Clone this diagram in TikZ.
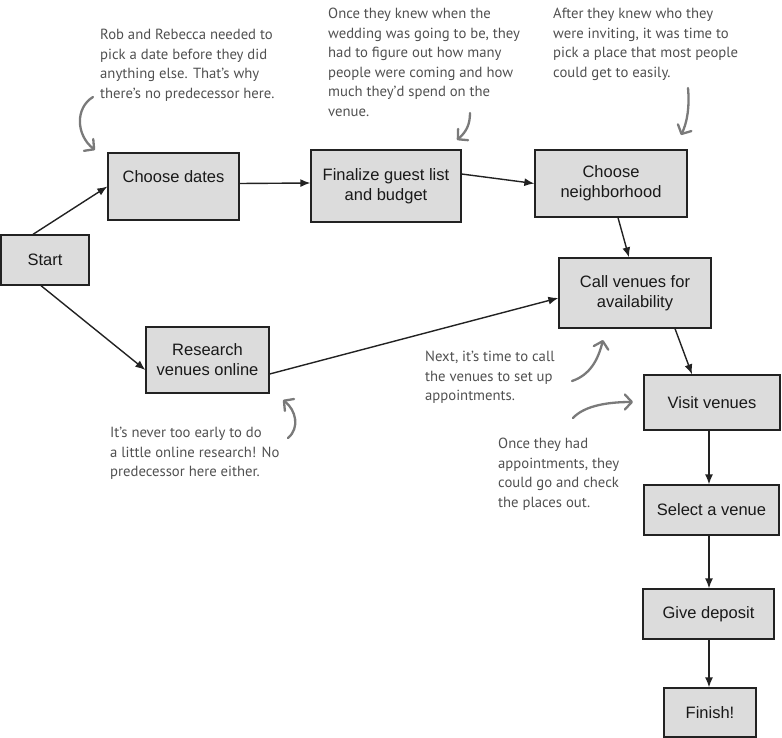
\documentclass[tikz,border=0pt]{standalone}
\usepackage{fontspec}
\setmainfont{Liberation Sans}
\newfontfamily\handfont{PT Sans}
\usetikzlibrary{arrows.meta}
\definecolor{boxfill}{HTML}{DCDCDC}
\definecolor{boxline}{HTML}{222222}
\definecolor{notegray}{HTML}{505050}
\definecolor{notearrow}{HTML}{7A7A7A}
\begin{document}
\begin{tikzpicture}[x=1pt,y=-1pt,
  task/.style={draw=boxline, fill=boxfill, line width=1.3pt, inner sep=0pt, align=center,
    font=\fontsize{16.5}{20}\selectfont, text=black!90},
  flow/.style={draw=boxline, line width=1.4pt, -{Latex[length=10pt,width=8pt]}},
  note/.style={font=\handfont\fontsize{14.7}{19.5}\selectfont, text=notegray, align=left,
    anchor=north west, inner sep=0pt},
  notearr/.style={draw=notearrow, line width=2.3pt, line cap=round, line join=round,
    -{Straight Barb[length=7pt,width=15pt,round]}}]
\useasboundingbox (0,0) rectangle (782,738);

% task boxes
\node[task, minimum width=88pt, minimum height=50pt] (start) at (45,260) {Start};
\node[task, minimum width=131pt, minimum height=67pt] (dates) at (173.5,186.5) {Choose dates\\[-6pt]\strut};
\node[task, minimum width=123pt, minimum height=66pt] (research) at (207.5,360) {Research\\venues online};
\node[task, minimum width=150pt, minimum height=72pt] (final) at (386,186) {Finalize guest list\\and budget};
\node[task, minimum width=152pt, minimum height=67pt] (neigh) at (611,183.5) {Choose\\neighborhood};
\node[task, minimum width=152pt, minimum height=70pt] (call) at (635,293) {Call venues for\\availability};
\node[task, minimum width=136pt, minimum height=55pt] (visit) at (712,402.5) {Visit venues};
\node[task, minimum width=135pt, minimum height=50pt] (select) at (711.5,510) {Select a venue};
\node[task, minimum width=131pt, minimum height=50pt] (deposit) at (708.5,614) {Give deposit};
\node[task, minimum width=92pt, minimum height=49pt] (finish) at (710,712.5) {Finish!};

% flow connectors
\draw[flow] ([xshift=-12pt]start.north) -- (dates.west);
\draw[flow] ([xshift=-4pt]start.south) -- ([yshift=-10pt]research.west);
\draw[flow] ([yshift=3pt]dates.east) -- ([yshift=3pt]final.west);
\draw[flow] ([yshift=12pt]final.east) -- (neigh.west);
\draw[flow] ([yshift=-14pt]research.east) -- ([yshift=-5pt]call.west);
\draw[flow] ([xshift=7pt]neigh.south) -- ([xshift=-6pt]call.north);
\draw[flow] ([xshift=40pt]call.south) -- ([xshift=-20pt]visit.north);
\draw[flow] ([xshift=-3pt]visit.south) -- ([xshift=-2.5pt]select.north);
\draw[flow] ([xshift=-2.5pt]select.south) -- ([xshift=0.5pt]deposit.north);
\draw[flow] ([xshift=0.5pt]deposit.south) -- ([xshift=-1pt]finish.north);

% annotations
\node[note] (n1) at (100,29) {Rob and Rebecca needed to\\pick a date before they did\\anything else. That’s why\\there’s no predecessor here.};
\node[note] (n2) at (328,8) {Once they knew when the\\wedding was going to be, they\\had to figure out how many\\people were coming and how\\much they’d spend on the\\venue.};
\node[note] (n3) at (553,8) {After they knew who they\\were inviting, it was time to\\pick a place that most people\\could get to easily.};
\node[note] (n4) at (425,351) {Next, it’s time to call\\the venues to set up\\appointments.};
\node[note] (n5) at (498,438) {Once they had\\appointments, they\\could go and check\\the places out.};
\node[note] (n6) at (110,427) {It’s never too early to do\\a little online research! No\\predecessor here either.};

% annotation arrows
\coordinate (a1s) at (93,97);   \coordinate (a1e) at (95,150);
\coordinate (a2s) at (470,113); \coordinate (a2e) at (457,140);
\coordinate (a3s) at (688,88);  \coordinate (a3e) at (681,135);
\coordinate (a4s) at (572,381); \coordinate (a4e) at (603,340);
\coordinate (a5s) at (573,418); \coordinate (a5e) at (633,402);
\coordinate (a6s) at (288,438); \coordinate (a6e) at (283,400);
\draw[notearr] (a1s) .. controls (75,108) and (76,135) .. (a1e);
\draw[notearr] (a2s) .. controls (470,125) and (466,132) .. (a2e);
\draw[notearr] (a3s) .. controls (690,110) and (686,125) .. (a3e);
\draw[notearr] (a4s) .. controls (590,375) and (598,360) .. (a4e);
\draw[notearr] (a5s) .. controls (585,405) and (610,402) .. (a5e);
\draw[notearr] (a6s) .. controls (300,428) and (296,410) .. (a6e);
\end{tikzpicture}
\end{document}
